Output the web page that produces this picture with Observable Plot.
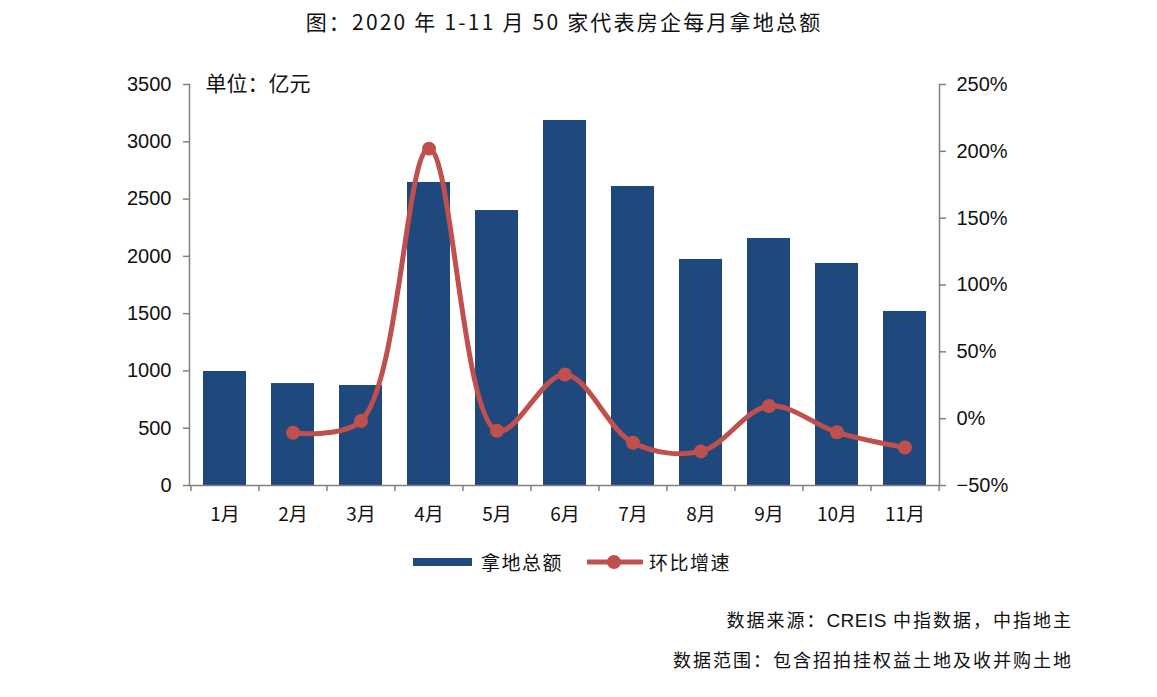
<!DOCTYPE html>
<html><head><meta charset="utf-8">
<script src="https://cdn.jsdelivr.net/npm/d3@7"></script>
<script src="https://cdn.jsdelivr.net/npm/@observablehq/plot@0.6"></script>
<style>
body{margin:0;background:#fff;width:1157px;height:697px;position:relative;overflow:hidden;font-family:"Noto Sans CJK SC",sans-serif;color:#111;}
#title{position:absolute;top:6px;left:0;width:1128px;text-align:center;font-size:21px;letter-spacing:2.2px;}
#chart{position:absolute;top:45px;left:0;}
#legend{position:absolute;top:548px;left:413px;display:flex;align-items:center;font-size:19px;letter-spacing:1.5px;}
.cap{position:absolute;right:84px;font-size:18px;letter-spacing:2px;white-space:nowrap;}
.cap .en{font-family:"Liberation Sans",Arial,sans-serif;letter-spacing:0.5px;font-size:19px;}
</style></head><body>
<div id="title">图：2020 年 1-11 月 50 家代表房企每月拿地总额</div>
<div id="chart"></div>
<div id="legend">
  <svg width="60" height="12"><rect x="0" y="2" width="59" height="8" fill="#1F497D"/></svg>
  <span style="margin-left:8px">拿地总额</span>
  <svg width="56" height="16" style="margin-left:24px"><line x1="1" x2="54" y1="8" y2="8" stroke="#C0504D" stroke-width="5" stroke-linecap="round"/><circle cx="27" cy="8" r="7" fill="#C0504D"/></svg>
  <span style="margin-left:6px">环比增速</span>
</div>
<div class="cap" style="top:606px">数据来源：<span class="en">CREIS</span> 中指数据，中指地主</div>
<div class="cap" style="top:646px">数据范围：包含招拍挂权益土地及收并购土地</div>
<script>
const months = ["1月","2月","3月","4月","5月","6月","7月","8月","9月","10月","11月"];
const amount = [995, 890, 873, 2645, 2400, 3186, 2610, 1973, 2156, 1938, 1519];
const growth = [null, -10.5, -1.7, 202, -9, 33, -18, -24.5, 9.5, -10.2, -21.6];
const leftTicks = [0, 500, 1000, 1500, 2000, 2500, 3000, 3500];
const rightTicks = [-50, 0, 50, 100, 150, 200, 250];

const W = 1157, H = 500, ML = 189, MR = 218, MT = 39, MB = 60;
const yMax = 3500, gMin = -50, gMax = 250;
const g2y = g => (g - gMin) / (gMax - gMin) * yMax;
const y2g = v => v / yMax * (gMax - gMin) + gMin;
const step = (W - ML - MR) / months.length;

const barData = months.map((m, i) => ({month: m, amount: amount[i]}));
const lineData = months.map((m, i) => ({month: m, growth: growth[i]})).filter(d => d.growth != null);
const axisColor = "#808080";
const num = '"Liberation Sans", Arial, sans-serif';

const chart = Plot.plot({
  width: W, height: H,
  marginLeft: ML, marginRight: MR, marginTop: MT, marginBottom: MB,
  style: {fontFamily: num, fontSize: "20px", color: "#111", background: "transparent", overflow: "visible"},
  x: {domain: months, paddingInner: 0.37, paddingOuter: 0.185, axis: null},
  y: {domain: [0, yMax], axis: null},
  marks: [
    Plot.barY(barData, {x: "month", y: "amount", fill: "#1F497D"}),
    Plot.frame({anchor: "left", stroke: axisColor, strokeWidth: 1.5}),
    Plot.frame({anchor: "right", stroke: axisColor, strokeWidth: 1.5}),
    Plot.ruleY([0], {stroke: axisColor, strokeWidth: 1.5}),
    Plot.ruleX(months, {x: d => d, y1: 0, y2: 0, insetBottom: -6, dx: -step / 2, stroke: axisColor, strokeWidth: 1.5}),
    Plot.ruleX(months.slice(-1), {x: d => d, y1: 0, y2: 0, insetBottom: -6, dx: step / 2, stroke: axisColor, strokeWidth: 1.5}),
    Plot.axisY(leftTicks, {anchor: "left", tickSize: 6, tickPadding: 12, stroke: axisColor, strokeWidth: 1.5, fill: "#111", fontSize: 20, label: null, tickFormat: d => String(d)}),
    Plot.axisY(rightTicks.map(g2y), {anchor: "right", tickSize: 6, tickPadding: 11, stroke: axisColor, strokeWidth: 1.5, fill: "#111", fontSize: 20, label: null,
      tickFormat: d => { const g = Math.round(y2g(d)); return (g < 0 ? "\u2212" + (-g) : g) + "%"; }}),
    Plot.axisX({anchor: "bottom", tickSize: 0, tickPadding: 22, label: null, fontFamily: '"Noto Sans CJK SC", sans-serif', fontSize: 19}),
    Plot.line(lineData, {x: "month", y: d => g2y(d.growth), stroke: "#C0504D", strokeWidth: 5, curve: "catmull-rom"}),
    Plot.dot(lineData, {x: "month", y: d => g2y(d.growth), r: 7, fill: "#C0504D"}),
    Plot.text(["单位：亿元"], {frameAnchor: "top-left", dx: 16, textAnchor: "start", lineAnchor: "middle", fontSize: 21, fontFamily: '"Noto Sans CJK SC", sans-serif', letterSpacing: 4.5, fill: "#111"})
  ]
});
document.getElementById("chart").append(chart);
</script>
</body></html>
